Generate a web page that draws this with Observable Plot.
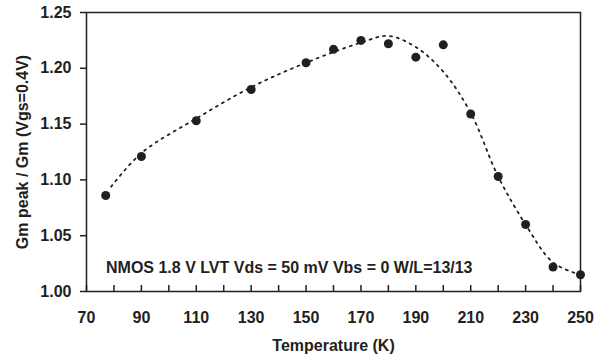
<!DOCTYPE html>
<html>
<head>
<meta charset="utf-8">
<script src="https://cdn.jsdelivr.net/npm/d3@7"></script>
<script src="https://cdn.jsdelivr.net/npm/@observablehq/plot@0.6"></script>
<style>
  html, body { margin: 0; padding: 0; background: #fff; }
</style>
</head>
<body>
<div id="chart"></div>
<script>
// Measured points
const temps = [77, 90, 110, 130, 150, 160, 170, 180, 190, 200, 210, 220, 230, 240, 250];
const ratio = [1.086, 1.121, 1.153, 1.181, 1.205, 1.217, 1.225, 1.222, 1.210, 1.221, 1.159, 1.103, 1.060, 1.022, 1.015];

// Dotted trend curve
const fitTemps = [79, 90, 110, 130, 150, 170, 180, 190, 200, 210, 220, 230, 240, 250];
const fitRatio = [1.094, 1.124, 1.155, 1.183, 1.205, 1.223, 1.229, 1.219, 1.197, 1.160, 1.103, 1.060, 1.026, 1.015];

// Ticks
const xTickAll = [70, 80, 90, 100, 110, 120, 130, 140, 150, 160, 170, 180, 190, 200, 210, 220, 230, 240, 250];
const xTickLabels = [70, 90, 110, 130, 150, 170, 190, 210, 230, 250];
const yTicks = [1.00, 1.05, 1.10, 1.15, 1.20, 1.25];

const xTitle = "Temperature (K)";
const yTitle = "Gm peak / Gm (Vgs=0.4V)";
const note = "NMOS 1.8 V LVT Vds = 50 mV Vbs = 0 W/L=13/13";

const points = temps.map((t, i) => ({t, r: ratio[i]}));
const fit = fitTemps.map((t, i) => ({t, r: fitRatio[i]}));

const ink = "#231f20";

const chart = Plot.plot({
  width: 603,
  height: 359,
  marginLeft: 86,
  marginRight: 23,
  marginTop: 12,
  marginBottom: 68,
  style: {
    fontFamily: "'Liberation Sans', Arial, sans-serif",
    fontSize: "16px",
    fontWeight: "bold",
    color: ink,
    background: "#fff"
  },
  x: {domain: [70, 250]},
  y: {domain: [1.0, 1.25]},
  marks: [
    Plot.line(fit, {x: "t", y: "r", curve: "catmull-rom", stroke: ink, strokeWidth: 1.8, strokeDasharray: "2,5"}),
    Plot.dot(points, {x: "t", y: "r", r: 4.5, fill: ink, stroke: "none"}),
    Plot.axisX({ticks: xTickAll, tickSize: -6, tickFormat: () => "", label: null, stroke: ink, strokeWidth: 1.5}),
    Plot.axisX({ticks: xTickLabels, tickSize: 0, tickPadding: 20, tickFormat: d => String(d), label: null, fontSize: 16, fontWeight: "bold"}),
    Plot.axisY({ticks: yTicks, tickSize: 6, tickPadding: 9, tickFormat: d3.format(".2f"), label: null, stroke: ink, strokeWidth: 1.5, fontSize: 16, fontWeight: "bold"}),
    Plot.frame({stroke: ink, strokeWidth: 1.5}),
    Plot.text([xTitle], {frameAnchor: "bottom", dy: 59, lineAnchor: "bottom", text: d => d, fontSize: 16, fontWeight: "bold", fill: ink}),
    Plot.text([yTitle], {frameAnchor: "left", dx: -64, rotate: -90, textAnchor: "middle", lineAnchor: "middle", text: d => d, fontSize: 16, fontWeight: "bold", fill: ink}),
    Plot.text([note], {frameAnchor: "bottom-left", dx: 19.5, dy: -18.5, textAnchor: "start", lineAnchor: "bottom", text: d => d, fontSize: 16, fontWeight: "bold", fill: ink})
  ]
});
document.getElementById("chart").appendChild(chart);
</script>
</body>
</html>
